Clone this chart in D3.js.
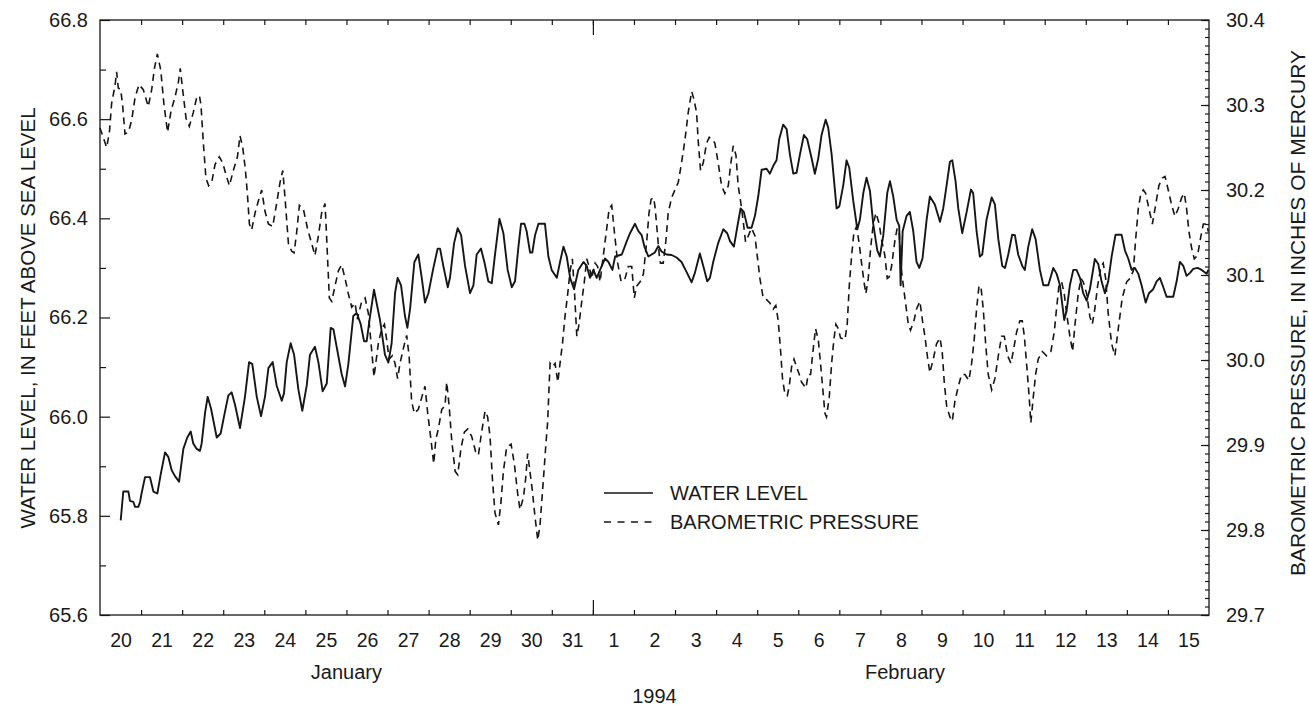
<!DOCTYPE html>
<html><head><meta charset="utf-8">
<script src="https://cdn.jsdelivr.net/npm/d3@7"></script>
<style>
body{margin:0;background:#fff}
text{font-family:"Liberation Sans",Arial,Helvetica,sans-serif;fill:#1a1a1a}
</style>
</head><body>
<svg id="c" width="1309" height="706"></svg>
<script>
// ---- DATA (hours since 1994-01-20 00:00) ----
const waterHours=[12.1,13.6,16.6,17.5,19.5,20.5,22.4,23.4,24.4,26.3,29.2,31.2,33.5,35.5,38.0,39.9,41.9,43.8,46.2,48.7,51.0,53.0,54.5,56.5,58.4,59.4,61.4,62.9,64.9,68.2,70.5,72.5,75.0,76.9,78.9,81.8,84.7,87.1,89.0,91.6,94.1,96.4,98.4,100.9,103.2,106.2,107.5,109.1,111.4,113.4,115.9,118.2,120.8,122.7,125.6,127.6,130.1,132.5,134.8,136.4,138.7,141.2,143.2,145.1,148.0,150.0,152.3,154.3,155.8,157.8,160.1,
163.6,166.5,168.5,170.4,172.4,173.9,175.9,178.2,179.6,181.2,183.7,186.0,188.0,189.9,191.9,194.8,197.3,198.7,200.6,203.2,204.5,206.9,209.0,211.0,213.3,216.2,218.2,220.1,222.6,224.6,226.9,228.9,230.8,233.4,235.7,238.2,240.6,242.5,244.5,246.0,248.0,249.3,251.3,252.6,254.2,256.2,260.0,262.0,263.9,266.9,268.8,270.8,272.7,274.7,277.0,279.5,282.5,284.4,286.3,288.3,290.2,293.2,295.1,297.1,299.4,301.0,304.9,307.8,309.7,312.6,314.6,316.5,318.1,320.4,
324.2,326.2,328.1,331.0,334.0,336.9,339.8,342.7,345.7,347.6,350.5,352.5,354.8,356.4,358.3,361.2,364.2,366.5,368.1,370.4,372.3,374.3,376.2,378.4,380.7,382.7,384.6,386.6,389.5,391.4,393.4,395.3,396.9,399.2,401.2,403.1,405.1,407.0,409.0,411.3,413.2,415.8,417.7,419.7,421.6,424.0,425.5,427.5,430.4,432.0,434.3,436.2,437.8,440.1,442.5,444.0,446.0,447.9,449.9,451.8,454.2,455.7,457.7,460.0,461.6,463.5,465.5,467.0,467.8,469.0,471.3,473.2,475.2,477.1,478.7,480.6,483.0,484.9,
487.8,490.8,492.7,494.7,496.6,498.0,499.9,501.5,503.8,506.4,508.9,510.2,512.2,514.1,515.5,518.0,521.0,522.9,524.9,527.2,528.8,530.7,533.0,534.6,536.5,538.9,540.4,542.4,544.7,546.7,549.2,551.2,554.1,557.0,559.0,560.9,563.4,564.8,566.7,568.7,570.6,572.6,574.5,576.5,578.4,581.3,583.3,585.2,587.2,589.1,591.1,593.4,596.9,598.9,600.8,602.8,604.7,606.7,608.6,611.0,612.9,615.4,617.4,619.3,621.3,623.2,627.1,629.1,631.0,633.0,634.9,636.9,638.8,641.3,643.7,646.6,647.6];
const waterLevel=[65.791,65.849,65.849,65.830,65.828,65.818,65.818,65.828,65.847,65.878,65.878,65.849,65.845,65.884,65.928,65.919,65.892,65.880,65.869,65.935,65.958,65.970,65.946,65.935,65.931,65.946,66.008,66.040,66.016,65.958,65.966,66.001,66.043,66.049,66.024,65.977,66.040,66.110,66.106,66.040,66.001,66.040,66.098,66.110,66.063,66.032,66.047,66.110,66.148,66.125,66.055,66.012,66.063,66.125,66.141,66.110,66.051,66.067,66.179,66.176,66.133,66.086,66.061,66.106,66.203,66.209,66.187,66.152,66.152,66.203,66.256,
66.195,66.125,66.109,66.148,66.249,66.280,66.265,66.203,66.179,66.218,66.312,66.327,66.280,66.230,66.249,66.300,66.339,66.339,66.304,66.261,66.280,66.350,66.380,66.366,66.304,66.249,66.265,66.327,66.339,66.312,66.273,66.269,66.327,66.399,66.370,66.296,66.261,66.273,66.343,66.389,66.389,66.374,66.331,66.331,66.366,66.389,66.389,66.323,66.296,66.280,66.312,66.343,66.323,66.280,66.257,66.296,66.312,66.304,66.280,66.296,66.280,66.304,66.319,66.312,66.296,66.323,66.327,66.354,66.370,66.389,66.374,66.366,66.343,66.323,
66.331,66.344,66.333,66.327,66.326,66.321,66.312,66.292,66.271,66.290,66.329,66.304,66.273,66.280,66.312,66.350,66.378,66.370,66.354,66.343,66.381,66.420,66.413,66.381,66.381,66.405,66.444,66.498,66.500,66.490,66.506,66.517,66.560,66.589,66.580,66.529,66.490,66.492,66.529,66.568,66.560,66.521,66.490,66.521,66.568,66.599,66.583,66.529,66.420,66.424,66.467,66.517,66.502,66.436,66.378,66.397,66.451,66.482,66.455,66.389,66.335,66.323,66.366,66.451,66.475,66.444,66.397,66.385,66.265,66.374,66.405,66.413,66.374,66.312,66.300,66.319,66.397,66.444,
66.428,66.393,66.420,66.467,66.514,66.517,66.475,66.420,66.370,66.413,66.458,66.451,66.374,66.323,66.327,66.397,66.442,66.428,66.358,66.304,66.300,66.327,66.367,66.366,66.327,66.304,66.296,66.343,66.378,66.358,66.296,66.265,66.265,66.300,66.288,66.265,66.195,66.214,66.265,66.296,66.296,66.280,66.249,66.234,66.257,66.318,66.308,66.273,66.249,66.273,66.323,66.367,66.367,66.335,66.319,66.296,66.300,66.288,66.265,66.230,66.249,66.257,66.273,66.280,66.261,66.242,66.242,66.273,66.312,66.304,66.284,66.290,66.298,66.300,66.296,66.288,66.296];

const pressureHours=[0,3.9,5.5,6.8,8.8,9.7,10.7,12.1,13.2,14.6,16.6,18.5,20.5,22.8,25.3,28.2,30.2,31.8,33.5,35.5,37.4,39.5,41.5,43.8,45.8,46.9,48.3,50.3,52.2,54.5,56.5,58.1,59.0,60.4,61.9,63.5,65.3,67.2,69.7,71.7,73.6,75.6,77.9,80.3,81.8,83.4,84.9,86.1,87.3,88.6,90.6,92.5,94.5,96.4,98.4,100.9,103.2,105.2,106.8,108.1,110.1,112.0,113.4,114.9,116.5,118.8,121.2,123.7,125.6,127.6,129.5,131.5,132.5,134.0,135.4,137.3,139.3,141.2,143.2,145.1,147.1,149.0,150.4,152.9,154.9,156.8,158.8,160.1,
162.6,164.6,166.2,167.5,168.9,170.8,172.4,173.9,175.3,177.3,179.2,180.6,182.1,183.7,186.0,188.0,189.9,191.5,193.4,195.0,196.2,197.7,199.7,201.6,202.6,204.0,205.5,207.5,209.0,211.0,212.9,214.9,217.2,219.5,221.1,222.6,225.0,226.5,227.9,229.3,230.8,232.8,234.3,235.7,237.6,240.2,242.1,244.1,245.4,247.4,248.7,249.9,250.9,252.6,254.2,255.8,257.1,259.1,260.4,261.6,262.4,263.0,264.3,265.9,267.5,268.8,270.2,271.7,273.3,274.7,276.0,277.2,278.6,279.9,281.5,283.0,284.4,285.8,287.3,289.3,290.8,292.2,294.1,296.1,297.5,299.0,300.6,302.5,304.5,306.8,308.7,310.7,312.2,313.6,315.6,317.5,319.5,320.8,322.0,323.4,
324.2,325.2,326.8,327.5,329.1,330.7,332.0,334.0,335.9,337.9,339.8,341.8,343.7,345.7,347.0,348.6,349.5,350.9,352.5,354.4,356.0,357.9,359.3,361.2,363.2,365.1,367.1,368.4,370.0,371.6,372.9,374.3,375.8,377.2,378.8,380.7,382.7,384.0,385.6,387.5,389.5,391.4,393.4,394.9,396.3,397.7,398.8,400.2,401.6,402.7,404.1,405.5,407.0,408.6,409.9,412.5,413.8,415.2,416.8,418.1,419.7,421.0,422.2,423.6,424.5,426.1,427.5,428.8,430.0,431.4,432.7,435.3,436.6,437.8,439.2,440.5,442.1,443.6,445.0,446.4,447.5,448.9,450.3,451.8,453.4,455.3,456.7,458.6,460.0,461.2,462.5,464.5,465.8,467.0,467.8,469.4,470.9,472.3,473.6,475.6,477.1,479.1,480.6,482.0,483.4,484.9,
486.9,488.8,490.8,492.1,493.3,494.7,496.6,498.0,499.5,501.5,503.4,505.4,507.7,509.3,510.8,512.2,513.6,514.7,516.1,517.5,519.0,521.0,522.9,524.9,526.8,528.4,530.3,532.3,533.6,535.6,537.5,538.9,540.1,541.4,542.8,543.9,545.3,546.7,548.2,550.6,553.1,555.6,557.6,558.9,560.3,561.9,563.4,564.8,566.7,568.3,569.7,571.6,573.2,574.5,576.5,578.4,579.8,581.3,582.9,584.9,586.2,587.6,589.1,591.1,593.0,595.0,597.3,599.9,601.8,603.8,605.1,606.7,608.2,609.6,611.0,612.9,614.9,616.8,618.7,620.7,622.3,624.2,626.2,628.1,630.0,632.0,633.6,634.9,636.3,637.8,639.4,641.3,643.3,644.7,646.6,647.6];
const pressure=[30.273,30.250,30.268,30.302,30.323,30.339,30.320,30.318,30.300,30.266,30.268,30.282,30.309,30.324,30.318,30.298,30.318,30.343,30.360,30.341,30.300,30.268,30.293,30.309,30.327,30.343,30.318,30.284,30.275,30.291,30.309,30.311,30.300,30.255,30.214,30.205,30.209,30.230,30.239,30.232,30.218,30.205,30.223,30.239,30.264,30.250,30.225,30.196,30.160,30.153,30.173,30.187,30.200,30.175,30.160,30.157,30.184,30.209,30.223,30.191,30.137,30.128,30.126,30.150,30.182,30.178,30.155,30.137,30.123,30.146,30.173,30.184,30.141,30.073,30.069,30.087,30.105,30.112,30.096,30.078,30.062,30.067,30.048,30.069,30.073,30.055,30.010,29.980,
30.019,30.037,30.042,30.024,30.001,30.005,29.996,29.978,29.996,30.014,30.029,30.005,29.951,29.937,29.942,29.956,29.969,29.937,29.906,29.878,29.906,29.919,29.942,29.946,29.974,29.946,29.906,29.869,29.865,29.897,29.915,29.919,29.910,29.892,29.888,29.910,29.940,29.933,29.910,29.860,29.820,29.806,29.833,29.869,29.897,29.901,29.878,29.842,29.824,29.838,29.860,29.890,29.874,29.847,29.815,29.788,29.806,29.860,29.897,29.928,29.969,29.996,29.992,29.996,29.974,29.996,30.019,30.051,30.078,30.105,30.119,30.082,30.028,30.042,30.069,30.092,30.119,30.110,30.096,30.114,30.110,30.092,30.123,30.155,30.178,30.182,30.150,30.114,30.092,30.096,30.110,30.110,30.073,30.087,30.092,30.101,30.141,30.173,30.189,30.191,
30.182,30.160,30.123,30.114,30.114,30.141,30.173,30.191,30.200,30.209,30.232,30.259,30.291,30.316,30.307,30.291,30.259,30.223,30.232,30.255,30.262,30.259,30.255,30.232,30.205,30.196,30.205,30.228,30.252,30.241,30.205,30.187,30.164,30.139,30.146,30.155,30.146,30.123,30.096,30.073,30.071,30.067,30.060,30.064,30.046,30.010,29.978,29.960,29.958,29.969,29.992,30.001,29.992,29.983,29.974,29.967,29.983,29.983,30.014,30.037,30.024,29.996,29.969,29.937,29.933,29.956,29.996,30.024,30.042,30.037,30.026,30.024,30.042,30.087,30.123,30.150,30.157,30.137,30.114,30.092,30.078,30.096,30.132,30.160,30.173,30.160,30.141,30.123,30.096,30.098,30.110,30.141,30.155,30.150,30.114,30.087,30.064,30.042,30.035,30.046,30.060,30.069,30.046,30.028,30.005,29.985,
30.001,30.019,30.026,30.010,29.974,29.946,29.933,29.928,29.951,29.969,29.983,29.983,29.976,29.996,30.024,30.060,30.087,30.087,30.060,30.019,29.983,29.965,29.978,30.005,30.028,30.028,30.005,29.996,30.010,30.033,30.046,30.046,30.028,29.996,29.960,29.926,29.956,29.983,30.001,30.010,30.005,30.010,30.033,30.060,30.087,30.092,30.078,30.055,30.028,30.010,30.042,30.078,30.096,30.092,30.078,30.051,30.042,30.060,30.087,30.110,30.114,30.096,30.055,30.019,30.005,30.037,30.073,30.092,30.096,30.105,30.141,30.178,30.196,30.200,30.196,30.178,30.160,30.182,30.205,30.214,30.216,30.200,30.182,30.169,30.178,30.191,30.196,30.178,30.151,30.132,30.119,30.123,30.146,30.160,30.160,30.151];

const levelTicks=[65.6,65.8,66.0,66.2,66.4,66.6,66.8];
const levelMinorTicks=[65.7,65.9,66.1,66.3,66.5,66.7];
const pressureTicks=[29.7,29.8,29.9,30.0,30.1,30.2,30.3,30.4];
const monthNames=["January","February"];
const yearLabel="1994";
const seriesNames=["WATER LEVEL","BAROMETRIC PRESSURE"];
const leftTitle="WATER LEVEL, IN FEET ABOVE SEA LEVEL";
const rightTitle="BAROMETRIC PRESSURE, IN INCHES OF MERCURY";

// ---- CHART ----
const svg=d3.select("#c");
const M={l:100,r:1209,t:20,b:615};
const start=new Date(1994,0,20), end=new Date(1994,1,16), feb1=new Date(1994,1,1);
const x=d3.scaleTime().domain([start,end]).range([M.l,M.r]);
const yL=d3.scaleLinear().domain([65.6,66.8]).range([M.b,M.t]);
const yR=d3.scaleLinear().domain([29.7,30.4]).range([M.b,M.t]);
const tH=h=>d3.timeMinute.offset(start,Math.round(h*60));
const ink="#161616";

function style(g,size){
  g.select(".domain").remove();
  g.selectAll("line").attr("stroke",ink).attr("stroke-width",1.2);
  g.selectAll("text").attr("font-size",size).attr("fill",ink);
}
// left axis
svg.append("g").attr("transform",`translate(${M.l},0)`)
  .call(d3.axisLeft(yL).tickValues(levelTicks).tickSize(-10).tickPadding(12).tickFormat(d3.format(".1f")))
  .call(g=>style(g,"20px"));
svg.append("g").attr("transform",`translate(${M.l},0)`)
  .call(d3.axisLeft(yL).tickValues(levelMinorTicks).tickSize(-6).tickFormat(""))
  .call(g=>style(g,"20px"));
// right axis
svg.append("g").attr("transform",`translate(${M.r},0)`)
  .call(d3.axisRight(yR).tickValues(pressureTicks).tickSize(-8).tickPadding(17).tickFormat(d3.format(".1f")))
  .call(g=>style(g,"20px"));
svg.append("g").attr("transform",`translate(${M.r},0)`)
  .call(d3.axisRight(yR).tickValues(d3.range(0,71).map(i=>29.7+i*0.01)).tickSize(-4).tickFormat(""))
  .call(g=>style(g,"20px"));
// bottom / top day ticks
const days=d3.timeDay.range(d3.timeDay.offset(start,1),end);
svg.append("g").attr("transform",`translate(0,${M.b})`)
  .call(d3.axisBottom(x).tickValues(days).tickSize(-5).tickFormat(""))
  .call(g=>style(g,"20px"));
svg.append("g").attr("transform",`translate(0,${M.t})`)
  .call(d3.axisTop(x).tickValues(days).tickSize(-5).tickFormat(""))
  .call(g=>style(g,"20px"));
svg.append("g").attr("transform",`translate(0,${M.b})`)
  .call(d3.axisBottom(x).tickValues([feb1]).tickSize(-15).tickFormat(""))
  .call(g=>style(g,"20px"));
svg.append("g").attr("transform",`translate(0,${M.t})`)
  .call(d3.axisTop(x).tickValues([feb1]).tickSize(-15).tickFormat(""))
  .call(g=>style(g,"20px"));
// day labels at noon
const noons=d3.timeDay.range(start,end).map(d=>d3.timeHour.offset(d,12));
svg.append("g").attr("transform",`translate(0,${M.b})`)
  .call(d3.axisBottom(x).tickValues(noons).tickSize(0).tickPadding(18).tickFormat(d3.timeFormat("%-d")))
  .call(g=>style(g,"19.5px"));
// frame
svg.append("rect").attr("x",M.l).attr("y",M.t).attr("width",M.r-M.l).attr("height",M.b-M.t)
  .attr("fill","none").attr("stroke",ink).attr("stroke-width",1.3);

// month & year
const mid=(a,b)=>new Date((a.getTime()+b.getTime())/2);
svg.append("text").attr("x",x(mid(start,feb1))).attr("y",679).attr("text-anchor","middle").attr("font-size","20px").text(monthNames[0]);
svg.append("text").attr("x",x(mid(feb1,end))+4).attr("y",679).attr("text-anchor","middle").attr("font-size","20px").text(monthNames[1]);
svg.append("text").attr("x",(M.l+M.r)/2).attr("y",703).attr("text-anchor","middle").attr("font-size","20px").text(yearLabel);

// axis titles
svg.append("text").attr("transform","translate(35,318) rotate(-90)").attr("text-anchor","middle").attr("font-size","20.5px").text(leftTitle);
svg.append("text").attr("transform","translate(1305,313) rotate(-90)").attr("text-anchor","middle").attr("font-size","21px").text(rightTitle);

// lines
const waterData=waterHours.map((h,i)=>({t:tH(h),v:waterLevel[i]}));
const pressData=pressureHours.map((h,i)=>({t:tH(h),v:pressure[i]}));
svg.append("path").datum(pressData).attr("fill","none").attr("stroke",ink).attr("stroke-width",1.6)
  .attr("stroke-dasharray","7,5")
  .attr("d",d3.line().x(d=>x(d.t)).y(d=>yR(d.v)));
svg.append("path").datum(waterData).attr("fill","none").attr("stroke",ink).attr("stroke-width",1.9)
  .attr("stroke-linejoin","round")
  .attr("d",d3.line().x(d=>x(d.t)).y(d=>yL(d.v)));

// legend
const lg=svg.append("g");
[0,1].forEach(i=>{
  const yy=493+i*29;
  lg.append("line").attr("x1",604).attr("x2",653).attr("y1",yy).attr("y2",yy)
    .attr("stroke",ink).attr("stroke-width",1.5).attr("stroke-dasharray",i?"7,6.5":null);
  lg.append("text").attr("x",670).attr("y",yy).attr("dy","0.36em").attr("font-size","20px").text(seriesNames[i]);
});
</script>
</body></html>
